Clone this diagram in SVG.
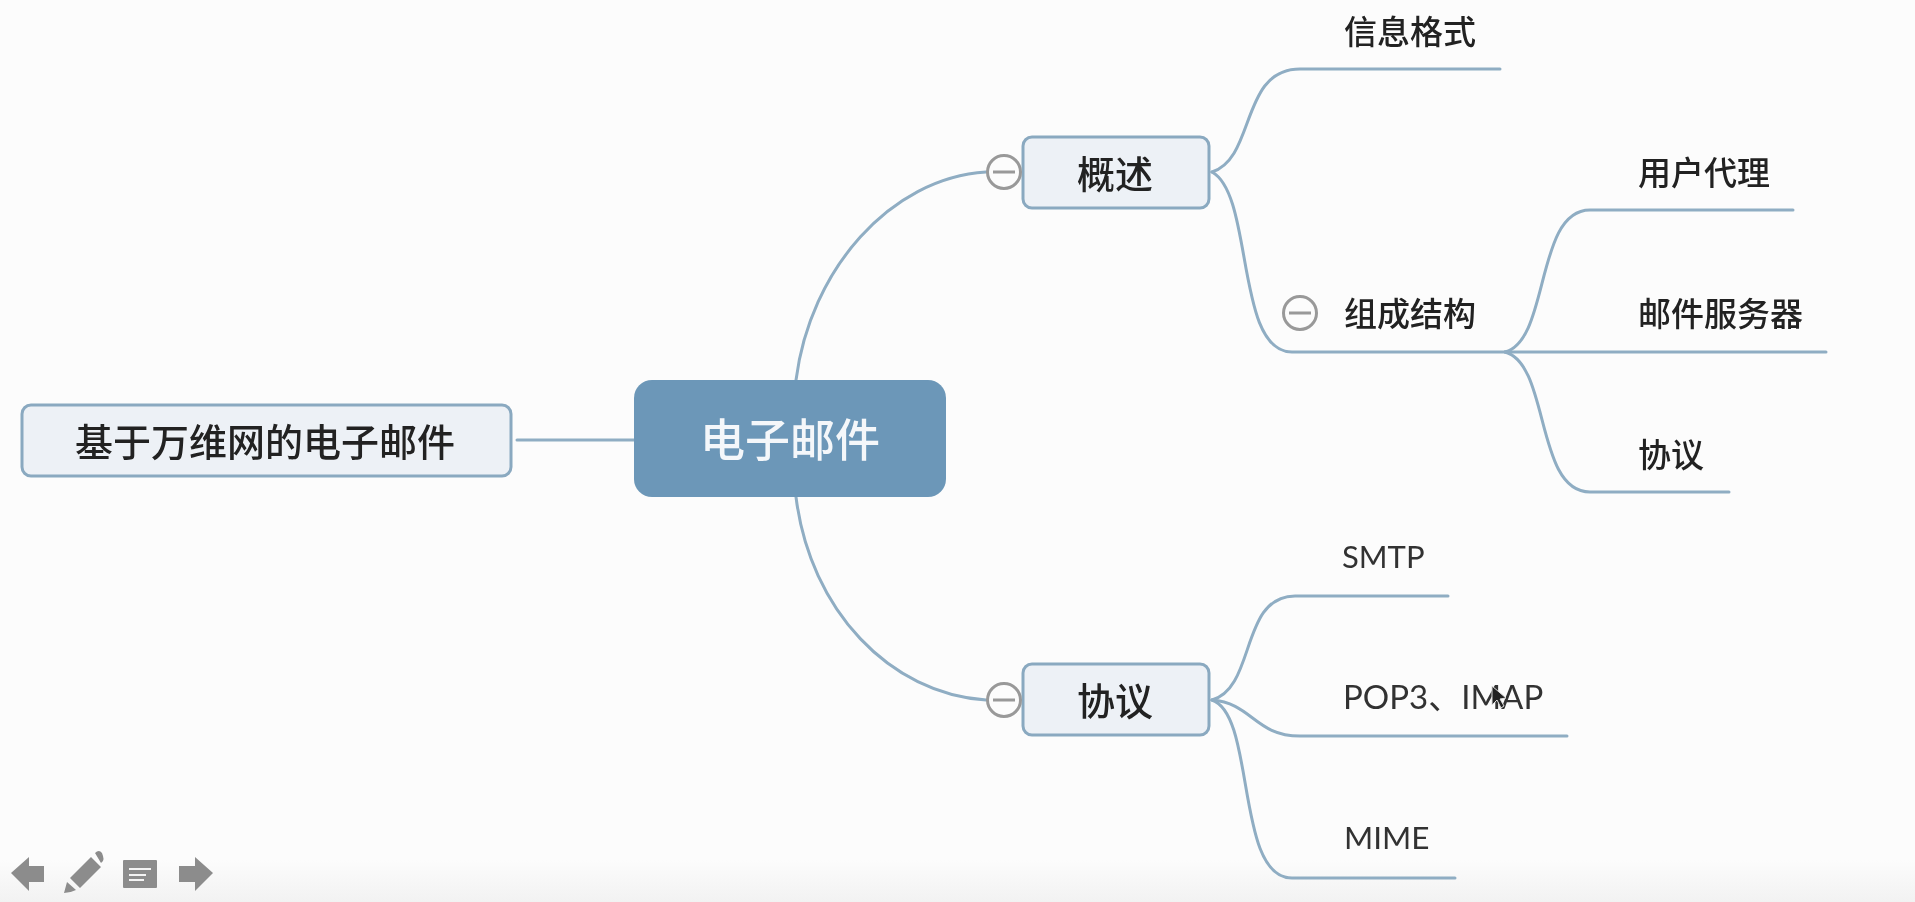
<svg xmlns="http://www.w3.org/2000/svg" width="1915" height="902" viewBox="0 0 1915 902">
<style>
.t{font-family:"Noto Sans CJK SC","Liberation Sans",sans-serif;font-weight:500;fill:#222;text-anchor:middle;dominant-baseline:central}
.l{font-family:"Lato","Noto Sans CJK SC",sans-serif;font-size:33px;fill:#333;dominant-baseline:central}
.c{font-family:"Noto Sans CJK SC",sans-serif;font-size:33px;font-weight:500;fill:#222;dominant-baseline:central}
.b{fill:#edf1f6;stroke:#8aa9c0;stroke-width:3}
.e{fill:none;stroke:#8fadc3;stroke-width:3;stroke-linecap:round}
.k{fill:#fcfcfc;stroke:#999;stroke-width:3}
.m{stroke:#999;stroke-width:3}
.i{fill:#8c8c8c}
</style>
<defs>
<linearGradient id="bg" x1="0" y1="0" x2="0" y2="1"><stop offset="0" stop-color="#fcfcfc"/><stop offset="1" stop-color="#f2f2f2"/></linearGradient>
<filter id="soft" x="-2%" y="-2%" width="104%" height="104%"><feGaussianBlur stdDeviation="0.6"/></filter>
</defs>
<rect width="1915" height="902" fill="#fcfcfc"/>
<rect y="860" width="1915" height="42" fill="url(#bg)"/>
<g filter="url(#soft)">
<g id="connectors">
<path class="e" d="M517 440H635" stroke-width="4"/>
<path class="e" d="M796 380C810 270 890 178 986 172"/>
<path class="e" d="M796 497C810 610 890 694 986 700"/>
<path class="e" d="M1212 172C1256 158 1240 69 1300 69H1500"/>
<path class="e" d="M1212 172C1254 195 1235 352 1292 352H1826"/>
<path class="e" d="M1505 352C1550 340 1535 210 1590 210H1793"/>
<path class="e" d="M1505 352C1550 364 1535 492 1590 492H1729"/>
<path class="e" d="M1212 700C1256 688 1240 596 1295 596H1448"/>
<path class="e" d="M1212 700C1252 703 1255 736 1300 736H1567"/>
<path class="e" d="M1212 700C1256 715 1235 878 1292 878H1455"/>
</g>
<g id="n-left"><rect class="b" x="22" y="405" width="489" height="71" rx="9"/><text class="t" x="265" y="439" font-size="38">基于万维网的电子邮件</text></g>
<g id="n-center"><rect x="634" y="380" width="312" height="117" rx="18" fill="#6c97b8"/><text class="t" x="790" y="437" font-size="45" style="fill:#f4f7fa">电子邮件</text></g>
<g id="n-overview"><rect class="b" x="1023" y="137" width="186" height="71" rx="9"/><text class="t" x="1115" y="171" font-size="38">概述</text></g>
<g id="n-protocol"><rect class="b" x="1023" y="664" width="186" height="71" rx="9"/><text class="t" x="1115" y="698" font-size="38">协议</text></g>
<g id="k1"><circle class="k" cx="1004" cy="172" r="16.5"/><path class="m" d="M993 172H1015"/></g>
<g id="k2"><circle class="k" cx="1004" cy="700" r="16.5"/><path class="m" d="M993 700H1015"/></g>
<g id="k3"><circle class="k" cx="1300" cy="313" r="16.5"/><path class="m" d="M1289 313H1311"/></g>
<g id="n-a"><text class="c" x="1344" y="30">信息格式</text></g>
<g id="n-b"><text class="c" x="1344" y="312">组成结构</text></g>
<g id="n-c"><text class="c" x="1638" y="171">用户代理</text></g>
<g id="n-d"><text class="c" x="1638" y="312">邮件服务器</text></g>
<g id="n-e"><text class="c" x="1638" y="453">协议</text></g>
<g id="n-f"><text class="l" x="1342" y="556" style="font-size:31px">SMTP</text></g>
<g id="n-g"><text class="l" x="1343" y="696">POP3、IMAP</text></g>
<g id="n-h"><text class="l" x="1344" y="837" style="font-size:31.5px">MIME</text></g>
<path d="M1492 686L1492 705L1497 700L1501 708L1504 706L1500 699L1506 698Z" fill="#222" stroke="#ddd" stroke-width="1"/>
<path class="i" d="M11 873L29 857V866H44V882H29V891Z"/>
<path class="i" d="M64 893L67 882L76 890Q70 893 64 893ZM70 878L91 857L101 867L80 888ZM95 853Q99 849 102 853L103 856Q104 859 103 861L101 863Z"/>
<rect class="i" x="123" y="860" width="34" height="28" rx="1"/>
<path d="M129 869H151M129 875H146M129 880H144" stroke="#f4f4f4" stroke-width="2" fill="none"/>
<path class="i" d="M213 873L195 857V866H179V882H195V891Z"/>
</g>
</svg>
